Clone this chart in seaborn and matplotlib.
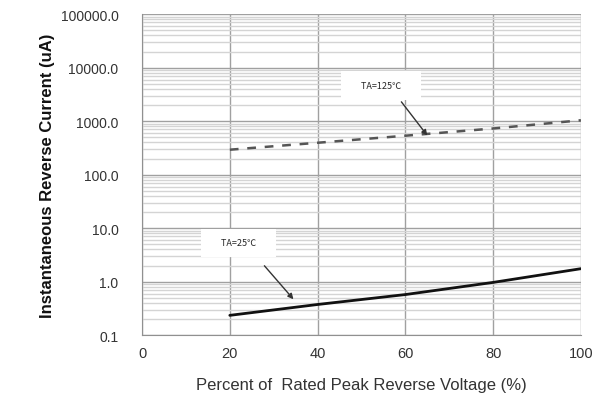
import numpy as np
import pandas as pd
import matplotlib
matplotlib.use("Agg")
import matplotlib.pyplot as plt
import seaborn as sns
from matplotlib.ticker import FixedLocator, LogLocator, NullFormatter

# Data
voltage_pct = [20, 40, 60, 80, 100]
current_125c = [293, 395, 535, 730, 1040]
current_25c = [0.235, 0.375, 0.575, 0.97, 1.75]

x_ticks = [0, 20, 40, 60, 80, 100]
y_ticks = [0.1, 1, 10, 100, 1000, 10000, 100000]
y_tick_labels = ["0.1", "1.0", "10.0", "100.0", "1000.0", "10000.0", "100000.0"]

df = pd.DataFrame({
    "Voltage": voltage_pct * 2,
    "Current": current_125c + current_25c,
    "Temp": ["TA=125℃"] * len(voltage_pct) + ["TA=25℃"] * len(voltage_pct),
})

sns.set_style("white")
plt.rcParams['font.family'] = ['Liberation Sans Narrow', 'Liberation Sans', 'DejaVu Sans']

fig = plt.figure(figsize=(6.07, 4.10), dpi=100)
ax = fig.add_axes([0.234, 0.180, 0.723, 0.783])

sns.lineplot(data=df, x="Voltage", y="Current", hue="Temp", style="Temp",
             palette={"TA=125℃": "#555555", "TA=25℃": "#111111"},
             dashes={"TA=125℃": (3.5, 3.5), "TA=25℃": ""},
             linewidth=1.8, legend=False, ax=ax, zorder=5)
ax.lines[1].set_linewidth(2.0)

ax.set_yscale("log")
ax.set_xlim(0, 100)
ax.set_ylim(0.1, 100000)

ax.xaxis.set_major_locator(FixedLocator(x_ticks))
ax.yaxis.set_major_locator(FixedLocator(y_ticks))
ax.set_yticklabels(y_tick_labels)
ax.yaxis.set_minor_locator(LogLocator(base=10, subs=np.arange(2, 10)))
ax.yaxis.set_minor_formatter(NullFormatter())

ax.grid(True, which="major", axis="both", color="#a0a0a0", linewidth=1.0)
ax.grid(True, which="minor", axis="y", color="#d4d4d4", linewidth=1.0)
ax.set_axisbelow(True)

for side in ["top", "right"]:
    ax.spines[side].set_visible(False)
ax.spines["left"].set_color("#909090")
ax.spines["bottom"].set_color("#909090")

ax.tick_params(axis="y", which="major", direction="out", length=7, color="#909090",
               labelsize=10, labelcolor="#333333", pad=10)
ax.tick_params(axis="y", which="minor", length=0)
ax.tick_params(axis="x", which="major", direction="out", length=0,
               labelsize=10.5, labelcolor="#333333", pad=8)

ax.set_xlabel("Percent of  Rated Peak Reverse Voltage (%)", fontsize=12, color="#333333", labelpad=12)
ax.set_ylabel("Instantaneous Reverse Current (uA)", fontsize=12, fontweight="bold",
              color="#111111", labelpad=4)

box = dict(boxstyle="square,pad=1.1", fc="white", ec="none")
ax.annotate("     TA=125℃     ", xy=(65, 540), xytext=(54.5, 4700), fontsize=6.5,
            ha="center", va="center", bbox=box, zorder=6,
            family=['Noto Sans CJK SC', 'DejaVu Sans'],
            arrowprops=dict(arrowstyle="-|>", color="#333333", lw=1.0,
                            shrinkA=2, shrinkB=0, mutation_scale=8,
                            relpos=(0.68, 0.0)))
ax.annotate("     TA=25℃     ", xy=(34.5, 0.47), xytext=(22, 5.3), fontsize=6.5,
            ha="center", va="center", bbox=box, zorder=6,
            family=['Noto Sans CJK SC', 'DejaVu Sans'],
            arrowprops=dict(arrowstyle="-|>", color="#333333", lw=1.0,
                            shrinkA=8, shrinkB=0, mutation_scale=8,
                            relpos=(0.68, 0.0)))

fig.savefig("out.png", dpi=100)
